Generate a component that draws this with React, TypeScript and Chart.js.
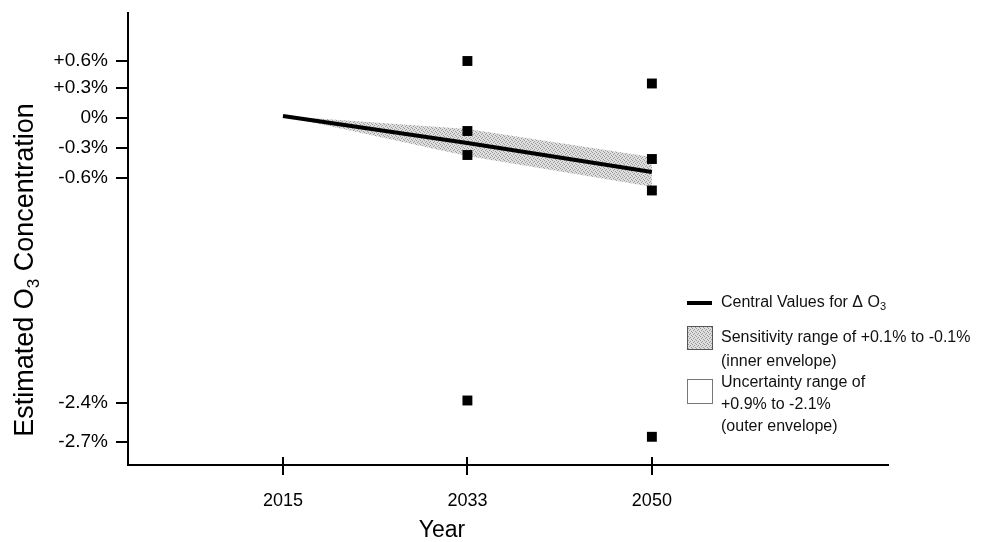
import React, { useEffect, useRef } from 'react';
import { Chart, registerables, LinearScale } from 'chart.js';

// ---------- data ----------
const yearLabels = ['2015', '2033', '2050'];
const yTickValues = [0.6, 0.3, 0, -0.3, -0.6, -2.4, -2.7];
const yTickLabels = ['+0.6%', '+0.3%', '0%', '-0.3%', '-0.6%', '-2.4%', '-2.7%'];
const centralValues = [0.02, -0.25, -0.54];
const bandUpper = [0.02, -0.11, -0.39];
const bandLower = [0.02, -0.38, -0.67];
const points2033 = [0.6, -0.13, -0.37, -2.38];
const points2050 = [0.35, -0.41, -0.7, -2.66];

// ---------- axis geometry (hand-drawn, non-uniform value axis) ----------
const yAxisStops: [number, number][] = [
  [-2.877, 0],
  [-2.7, 0.0509],
  [-2.4, 0.1372],
  [-0.6, 0.635],
  [-0.3, 0.7013],
  [0, 0.7677],
  [0.3, 0.8341],
  [0.6, 0.8938],
  [1.08, 1],
];

function valueToDecimal(v: number) {
  const s = yAxisStops;
  if (v <= s[0][0]) return s[0][1] + (v - s[0][0]) * ((s[1][1] - s[0][1]) / (s[1][0] - s[0][0]));
  for (let i = 1; i < s.length; i++) {
    if (v <= s[i][0]) {
      const t = (v - s[i - 1][0]) / (s[i][0] - s[i - 1][0]);
      return s[i - 1][1] + t * (s[i][1] - s[i - 1][1]);
    }
  }
  const n = s.length - 1;
  return s[n][1] + (v - s[n][0]) * ((s[n][1] - s[n - 1][1]) / (s[n][0] - s[n - 1][0]));
}
function decimalToValue(d: number) {
  const s = yAxisStops;
  for (let i = 1; i < s.length; i++) {
    if (d <= s[i][1] || i === s.length - 1) {
      const t = (d - s[i - 1][1]) / (s[i][1] - s[i - 1][1]);
      return s[i - 1][0] + t * (s[i][0] - s[i - 1][0]);
    }
  }
  return s[s.length - 1][0];
}

class BrokenScale extends (LinearScale as any) {
  static id = 'broken';
  static defaults = (LinearScale as any).defaults;
  getPixelForValue(value: number) {
    if (value === null || value === undefined) return NaN;
    return (this as any).getPixelForDecimal(valueToDecimal(value));
  }
  getValueForPixel(pixel: number) {
    return decimalToValue((this as any).getDecimalForPixel(pixel));
  }
}

Chart.register(...registerables, BrokenScale as any);

const FONT = '"Liberation Sans", Arial, Helvetica, sans-serif';

function makePattern(): CanvasPattern | string {
  const c = document.createElement('canvas');
  c.width = 4;
  c.height = 4;
  const g = c.getContext('2d');
  if (!g) return '#c8c8c8';
  g.fillStyle = '#dedede';
  g.fillRect(0, 0, 4, 4);
  g.fillStyle = '#9a9a9a';
  g.fillRect(0, 0, 1, 1);
  g.fillRect(2, 1, 1, 1);
  g.fillRect(1, 2, 1, 1);
  g.fillRect(3, 3, 1, 1);
  const p = g.createPattern(c, 'repeat');
  return p || '#c8c8c8';
}

function drawSubText(
  ctx: CanvasRenderingContext2D,
  parts: { t: string; sub?: boolean }[],
  x: number,
  y: number,
  size: number,
  subSize: number,
  subShift: number,
  align: 'left' | 'center'
) {
  const widths = parts.map((p) => {
    ctx.font = `${p.sub ? subSize : size}px ${FONT}`;
    return ctx.measureText(p.t).width;
  });
  const total = widths.reduce((a, b) => a + b, 0);
  let cx = align === 'center' ? x - total / 2 : x;
  ctx.textAlign = 'left';
  parts.forEach((p, i) => {
    ctx.font = `${p.sub ? subSize : size}px ${FONT}`;
    ctx.fillText(p.t, cx, y + (p.sub ? subShift : 0));
    cx += widths[i];
  });
}

export default function App() {
  const ref = useRef<HTMLCanvasElement>(null);

  useEffect(() => {
    if (!ref.current) return;
    const pattern = makePattern();

    const squares = [
      ...points2033.map((y) => ({ x: 1, y })),
      ...points2050.map((y) => ({ x: 2, y })),
    ];

    const decorPlugin = {
      id: 'decor',
      afterDraw(chart: any) {
        const ctx: CanvasRenderingContext2D = chart.ctx;
        const xs = chart.scales.x;
        const area = chart.chartArea;
        ctx.save();
        // crossing x ticks
        ctx.strokeStyle = '#000';
        ctx.lineWidth = 2;
        yearLabels.forEach((_, i) => {
          const px = Math.round(xs.getPixelForValue(i));
          ctx.beginPath();
          ctx.moveTo(px, area.bottom - 8);
          ctx.lineTo(px, area.bottom + 10);
          ctx.stroke();
        });

        ctx.fillStyle = '#000';
        ctx.textBaseline = 'alphabetic';
        // x-axis title
        ctx.font = `23px ${FONT}`;
        ctx.textAlign = 'center';
        ctx.fillText('Year', 442, 537);

        // y-axis title (rotated)
        ctx.save();
        ctx.translate(33, 270);
        ctx.rotate(-Math.PI / 2);
        drawSubText(
          ctx,
          [{ t: 'Estimated O' }, { t: '3', sub: true }, { t: ' Concentration' }],
          0,
          0,
          27,
          17,
          6,
          'center'
        );
        ctx.restore();

        // legend
        const lx = 687;
        const tx = 721;
        ctx.strokeStyle = '#000';
        ctx.lineWidth = 4;
        ctx.beginPath();
        ctx.moveTo(lx, 303);
        ctx.lineTo(lx + 25, 303);
        ctx.stroke();
        ctx.fillStyle = '#111';
        ctx.textBaseline = 'middle';
        drawSubText(
          ctx,
          [{ t: 'Central Values for \u0394 O' }, { t: '3', sub: true }],
          tx,
          303,
          16,
          11,
          4,
          'left'
        );

        ctx.fillStyle = pattern as any;
        ctx.fillRect(lx, 326, 25, 23);
        ctx.strokeStyle = '#555';
        ctx.lineWidth = 1;
        ctx.strokeRect(lx + 0.5, 326.5, 25, 23);
        ctx.fillStyle = '#111';
        ctx.font = `16px ${FONT}`;
        ctx.textAlign = 'left';
        ctx.fillText('Sensitivity range of +0.1% to -0.1%', tx, 338);
        ctx.fillText('(inner envelope)', tx, 362);

        ctx.fillStyle = '#fff';
        ctx.fillRect(lx, 379, 25, 24);
        ctx.strokeStyle = '#777';
        ctx.strokeRect(lx + 0.5, 379.5, 25, 24);
        ctx.fillStyle = '#111';
        ctx.fillText('Uncertainty range of', tx, 383);
        ctx.fillText('+0.9% to -2.1%', tx, 405);
        ctx.fillText('(outer envelope)', tx, 427);
        ctx.restore();
      },
    };

    const chart = new Chart(ref.current, {
      type: 'line',
      data: {
        datasets: [
          {
            label: 'Scenario results',
            data: squares,
            showLine: false,
            pointStyle: 'rect',
            pointRadius: 7,
            pointBackgroundColor: '#000',
            pointBorderWidth: 0,
            borderColor: '#000',
          } as any,
          {
            label: 'Central Values',
            data: centralValues.map((y, i) => ({ x: i, y })),
            borderColor: '#000',
            borderWidth: 4,
            pointRadius: 0,
            tension: 0,
            fill: false,
          },
          {
            label: 'Sensitivity lower',
            data: bandLower.map((y, i) => ({ x: i, y })),
            borderWidth: 0,
            borderColor: 'rgba(0,0,0,0)',
            pointRadius: 0,
            fill: false,
          },
          {
            label: 'Sensitivity upper',
            data: bandUpper.map((y, i) => ({ x: i, y })),
            borderWidth: 0,
            borderColor: 'rgba(0,0,0,0)',
            backgroundColor: pattern as any,
            pointRadius: 0,
            fill: 2,
          },
        ],
      },
      options: {
        responsive: false,
        animation: false,
        devicePixelRatio: 1,
        layout: { padding: { top: 13, right: 96, left: 0, bottom: 0 } },
        plugins: {
          legend: { display: false },
          tooltip: { enabled: false },
          title: { display: false },
        },
        scales: {
          x: {
            type: 'linear',
            min: -0.84,
            max: 3.28,
            afterBuildTicks: (axis: any) => {
              axis.ticks = yearLabels.map((_, i) => ({ value: i }));
            },
            afterFit: (scale: any) => {
              scale.height = 77;
              scale.paddingLeft = 0;
              scale.paddingRight = 0;
            },
            ticks: {
              autoSkip: false,
              maxRotation: 0,
              padding: 17,
              color: '#000',
              font: { family: FONT, size: 18 },
              callback: (v: any) => yearLabels[Math.round(Number(v))] ?? '',
            },
            grid: { display: false },
            border: { display: true, color: '#000', width: 2 },
          },
          y: {
            type: 'broken' as any,
            min: -2.877,
            max: 1.08,
            afterBuildTicks: (axis: any) => {
              axis.ticks = yTickValues.map((v) => ({ value: v }));
            },
            afterFit: (scale: any) => {
              scale.width = 128;
              scale.paddingTop = 0;
              scale.paddingBottom = 0;
            },
            ticks: {
              autoSkip: false,
              padding: 8,
              color: '#000',
              font: { family: FONT, size: 19 },
              callback: (v: any) => {
                const i = yTickValues.findIndex((t) => Math.abs(t - Number(v)) < 1e-6);
                return i >= 0 ? yTickLabels[i] : '';
              },
            },
            grid: {
              display: true,
              drawOnChartArea: false,
              drawTicks: true,
              tickLength: 12,
              color: '#000',
              lineWidth: 2,
            },
            border: { display: true, color: '#000', width: 2 },
          },
        },
      } as any,
      plugins: [decorPlugin],
    });

    return () => chart.destroy();
  }, []);

  return (
    <div style={{ position: 'absolute', left: 0, top: 0, width: 984, height: 542, background: '#fff' }}>
      <canvas ref={ref} width={984} height={542} style={{ display: 'block' }} />
    </div>
  );
}
